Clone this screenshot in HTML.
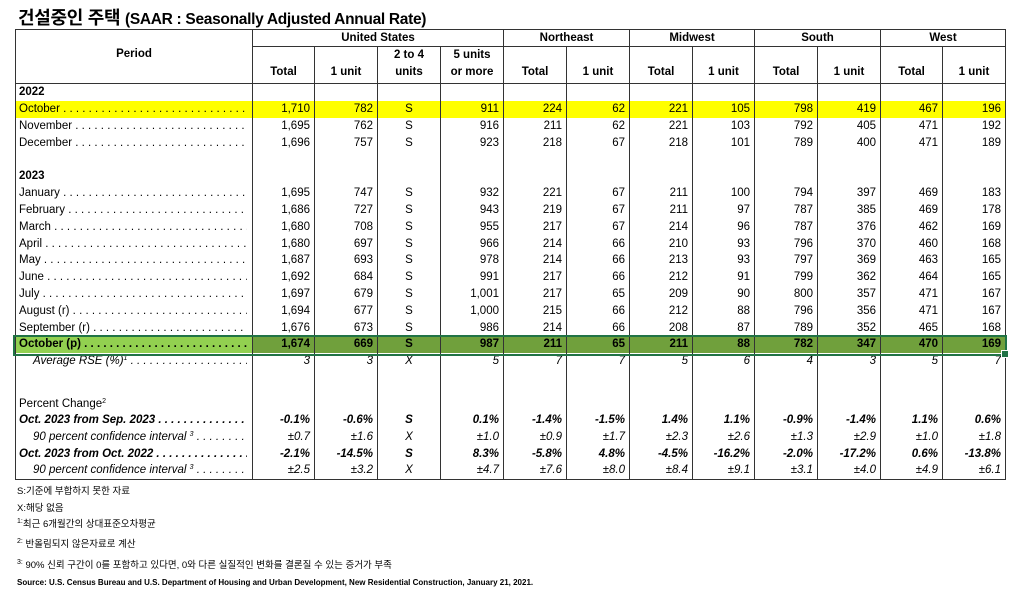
<!DOCTYPE html>
<html><head><meta charset="utf-8">
<style>
html,body{margin:0;padding:0;background:#fff;}
body{width:1023px;height:599px;position:relative;overflow:hidden;font-family:"Liberation Sans","Noto Sans CJK KR",sans-serif;color:#000;}
#title{position:absolute;left:18px;top:4px;font-size:18px;font-weight:bold;white-space:nowrap;letter-spacing:-0.3px;}
#title .sub{font-size:15.5px;}
table{position:absolute;left:15px;top:29px;width:990px;border-collapse:collapse;table-layout:fixed;font-size:11.5px;}
td{padding:0 4px;white-space:nowrap;overflow:hidden;border-left:1.5px solid #333;border-right:1.5px solid #333;text-align:right;height:16.8px;line-height:16px;}
th{border:1.5px solid #333;font-weight:bold;font-size:11.5px;padding:0 2px;overflow:hidden;}
sup{line-height:0;font-size:7px;vertical-align:baseline;position:relative;top:-0.55em;}
.lab{text-align:left;padding-left:3px;}
.lab .d{display:block;overflow:hidden;width:228px;}
.c{text-align:center;}
tr.yel td{background:#ffff00;}
tr.grn td{background:#70a03c;font-weight:bold;}
tr.grn td.lab{background:#92d050;}
.it td{font-style:italic;}
.bi td{font-style:italic;font-weight:bold;}
#gbox{position:absolute;left:13px;top:335px;width:990px;height:17px;border:2px solid #217346;}
#ghandle{position:absolute;left:1001px;top:350px;width:6px;height:6px;background:#217346;border:1px solid #fff;}
.fn{position:absolute;left:17px;font-size:9.5px;white-space:nowrap;}
</style></head>
<body>
<div id="title">건설중인 주택 <span class="sub">(SAAR : Seasonally Adjusted Annual Rate)</span></div>
<table id="tbl">
<colgroup>
<col style="width:237px"><col style="width:62px"><col style="width:63px"><col style="width:63px"><col style="width:63px"><col style="width:63px"><col style="width:63px"><col style="width:63px"><col style="width:62px"><col style="width:63px"><col style="width:63px"><col style="width:62px"><col style="width:63px">
</colgroup>
<thead>
<tr style="height:17px">
<th rowspan="2" style="vertical-align:top;padding-top:18px">Period</th>
<th colspan="4">United States</th>
<th colspan="2">Northeast</th>
<th colspan="2">Midwest</th>
<th colspan="2">South</th>
<th colspan="2">West</th>
</tr>
<tr style="height:36px" id="subhead"></tr>
</thead>
<tbody id="tb"></tbody>
</table>
<div id="gbox"></div>
<div id="ghandle"></div>

<div class="fn" style="top:483px">S:기준에 부합하지 못한 자료</div>
<div class="fn" style="top:500px">X:해당 없음</div>
<div class="fn" style="top:516px"><sup>1:</sup>최근 6개월간의 상대표준오차평균</div>
<div class="fn" style="top:536px"><sup>2:</sup> 반올림되지 않은자료로 계산</div>
<div class="fn" style="top:557px"><sup>3:</sup> 90% 신뢰 구간이 0를 포함하고 있다면, 0와 다른 실질적인 변화를 결론질 수 있는 증거가 부족</div>
<div class="fn" style="top:578px;font-size:8px;font-weight:bold">Source: U.S. Census Bureau and U.S. Department of Housing and Urban Development, New Residential Construction, January 21, 2021.</div>

<script>
const subHeaders = ["Total","1 unit","2 to 4<br>units","5 units<br>or more","Total","1 unit","Total","1 unit","Total","1 unit","Total","1 unit"];
const rowLabels = ["2022","October","November","December","","2023","January","February","March","April","May","June","July","August (r)","September (r)","October (p)","Average RSE (%)<sup>1</sup>","","Percent Change<sup>2</sup>","Oct. 2023 from Sep. 2023","90 percent confidence interval <sup>3</sup>","Oct. 2023 from Oct. 2022","90 percent confidence interval <sup>3</sup>"];
const rowValues = [
 null,
 ["1,710","782","S","911","224","62","221","105","798","419","467","196"],
 ["1,695","762","S","916","211","62","221","103","792","405","471","192"],
 ["1,696","757","S","923","218","67","218","101","789","400","471","189"],
 null,null,
 ["1,695","747","S","932","221","67","211","100","794","397","469","183"],
 ["1,686","727","S","943","219","67","211","97","787","385","469","178"],
 ["1,680","708","S","955","217","67","214","96","787","376","462","169"],
 ["1,680","697","S","966","214","66","210","93","796","370","460","168"],
 ["1,687","693","S","978","214","66","213","93","797","369","463","165"],
 ["1,692","684","S","991","217","66","212","91","799","362","464","165"],
 ["1,697","679","S","1,001","217","65","209","90","800","357","471","167"],
 ["1,694","677","S","1,000","215","66","212","88","796","356","471","167"],
 ["1,676","673","S","986","214","66","208","87","789","352","465","168"],
 ["1,674","669","S","987","211","65","211","88","782","347","470","169"],
 ["3","3","X","5","7","7","5","6","4","3","5","7"],
 null,null,
 ["-0.1%","-0.6%","S","0.1%","-1.4%","-1.5%","1.4%","1.1%","-0.9%","-1.4%","1.1%","0.6%"],
 ["±0.7","±1.6","X","±1.0","±0.9","±1.7","±2.3","±2.6","±1.3","±2.9","±1.0","±1.8"],
 ["-2.1%","-14.5%","S","8.3%","-5.8%","4.8%","-4.5%","-16.2%","-2.0%","-17.2%","0.6%","-13.8%"],
 ["±2.5","±3.2","X","±4.7","±7.6","±8.0","±8.4","±9.1","±3.1","±4.0","±4.9","±6.1"]
];
const rowClass = ["","yel","","","","","","","","","","","","","","grn","it","","","bi","it","bi","it"];
const dots = " . . . . . . . . . . . . . . . . . . . . . . . . . . . . . . . . . . . . . . . . . . . . . . . . . . . . . . . . . . . . . .";
const sh = document.getElementById('subhead');
subHeaders.forEach(function(h,i){
  const th = document.createElement('th');
  
  
  th.style.verticalAlign = 'bottom';
  th.style.paddingBottom = '2px';
  th.style.lineHeight = '17px';
  th.innerHTML = h;
  sh.appendChild(th);
});
const tb = document.getElementById('tb');
rowLabels.forEach(function(lab,r){
  const tr = document.createElement('tr');
  
  
  if (rowClass[r]) tr.className = rowClass[r];
  if (r===17 || r===18) tr.style.height = '21px';
  const td0 = document.createElement('td');
  
  
  td0.className = 'lab';
  const isHead = (lab==="2022"||lab==="2023");
  const indent = (rowClass[r]==="it") ? "padding-left:14px;width:214px;" : "";
  if (lab && !isHead && r!==18) {
    td0.innerHTML = '<span class="d" style="'+indent+'">'+lab+dots+'</span>';
  } else {
    td0.innerHTML = lab;
    if (isHead) td0.style.fontWeight = 'bold';
    if (r===18) td0.style.verticalAlign = 'bottom';
  }
  tr.appendChild(td0);
  for (let c=0;c<12;c++){
    const td = document.createElement('td');
    
    
    if (c===2) td.className = 'c';
    if (rowValues[r]) td.textContent = rowValues[r][c];
    tr.appendChild(td);
  }
  if (r===22) { Array.from(tr.children).forEach(function(x){x.style.borderBottom='1.5px solid #333';}); }
  tb.appendChild(tr);
});
</script>
</body></html>
